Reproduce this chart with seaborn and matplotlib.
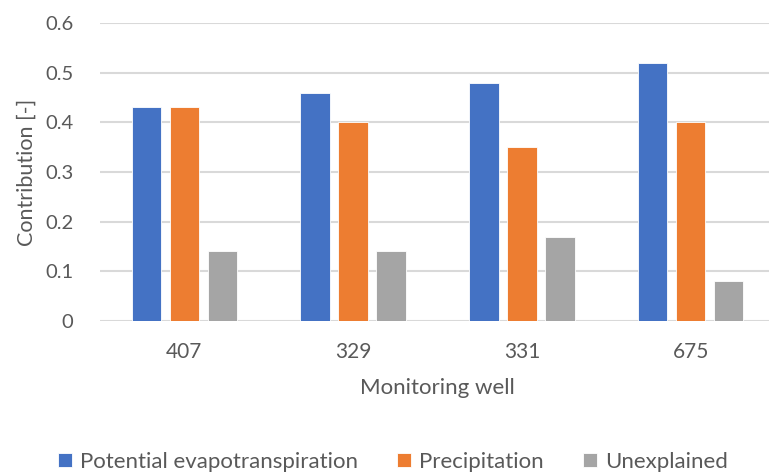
import matplotlib
matplotlib.use("Agg")
import matplotlib.pyplot as plt
import seaborn as sns
import pandas as pd

wells = ["407", "329", "331", "675"]
pet = [0.43, 0.46, 0.48, 0.52]
precip = [0.43, 0.40, 0.35, 0.40]
unexplained = [0.14, 0.14, 0.17, 0.08]
series_names = ["Potential evapotranspiration", "Precipitation", "Unexplained"]
yticks = [0, 0.1, 0.2, 0.3, 0.4, 0.5, 0.6]
ytick_labels = ["0", "0.1", "0.2", "0.3", "0.4", "0.5", "0.6"]

df = pd.DataFrame({
    "well": wells * 3,
    "value": pet + precip + unexplained,
    "series": [s for s in series_names for _ in wells],
})

sns.set_style("white")
plt.rcParams["font.family"] = ["Lato", "DejaVu Sans"]
text_color = "#595959"
grid_color = "#D9D9D9"
palette = {"Potential evapotranspiration": "#4472C4",
           "Precipitation": "#ED7D31",
           "Unexplained": "#A5A5A5"}

fig = plt.figure(figsize=(7.69, 4.75), dpi=100)
ax = fig.add_axes([100 / 769, 154 / 475, 675 / 769, 298 / 475])

sns.barplot(data=df, x="well", y="value", hue="series", order=wells,
            hue_order=series_names, palette=palette, width=0.675, gap=0.22,
            saturation=1, edgecolor="white", linewidth=0.6, ax=ax,
            legend=True)

ax.set_ylim(0, 0.6)
ax.set_xlim(-0.5, 3.5)
ax.set_yticks(yticks)
ax.set_yticklabels(ytick_labels)
ax.yaxis.grid(True, color=grid_color, linewidth=1.5)
ax.set_axisbelow(True)
for s in ax.spines.values():
    s.set_visible(False)
ax.tick_params(axis="both", length=0, colors=text_color)
ax.tick_params(axis="y", pad=19, labelsize=14.5)
ax.tick_params(axis="x", pad=15, labelsize=15)
ax.set_xlabel("Monitoring well", fontsize=16, color=text_color)
ax.xaxis.set_label_coords(0.5, -0.19)
ax.set_ylabel("Contribution [-]", fontsize=15.5, color=text_color)
ax.yaxis.set_label_coords(-0.094, 0.5)

handles, labels = ax.get_legend_handles_labels()
ax.get_legend().remove()
fig.legend(handles, labels, loc="center", bbox_to_anchor=(0.511, 1 - 462 / 475),
           ncol=3, frameon=False, fontsize=16, labelcolor=text_color,
           handlelength=0.63, handleheight=0.63, handletextpad=0.36,
           columnspacing=1.75)

fig.savefig("out.png", dpi=100)
